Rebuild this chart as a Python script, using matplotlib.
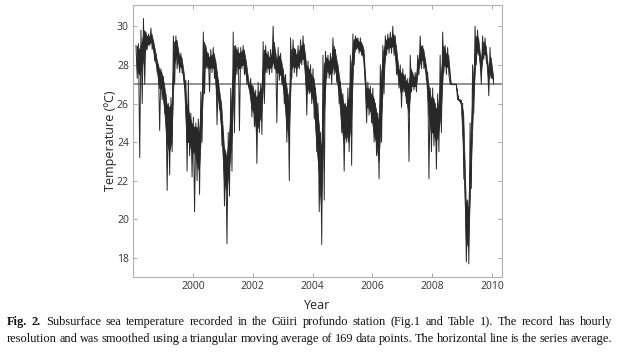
#!/usr/bin/env python3
import matplotlib
matplotlib.use("Agg")
import matplotlib.pyplot as plt
import numpy as np

# monthly values, Feb 1998 .. Jan 2010
start_year = 1998.10

# full monthly excursion (highest / lowest reading, spikes included)
temp_high = [
    29.0, 29.1, 29.8, 30.4, 29.7, 29.6, 29.9, 29.2, 28.6, 28.0, 27.8,              # 1998
    27.4, 26.5, 26.0, 26.3, 29.5, 29.5, 28.7, 28.6, 27.6, 27.2, 27.2, 25.5,        # 1999
    25.3, 25.0, 25.2, 26.6, 29.7, 29.0, 28.6, 28.8, 28.9, 28.2, 27.2, 26.2,        # 2000
    24.5, 23.5, 24.5, 26.8, 29.7, 29.0, 28.9, 28.9, 29.0, 28.3, 27.0, 27.3,        # 2001
    26.9, 26.7, 27.1, 27.0, 29.2, 29.0, 28.7, 28.8, 30.0, 28.6, 28.9, 28.6,        # 2002
    27.8, 27.5, 26.5, 29.4, 29.3, 28.8, 29.0, 29.3, 29.5, 28.5, 28.2, 28.0,        # 2003
    27.8, 26.8, 26.0, 24.5, 28.5, 28.7, 28.5, 28.6, 29.4, 28.8, 28.0, 27.1,        # 2004
    26.5, 26.0, 26.8, 28.5, 29.6, 29.5, 29.4, 29.4, 29.0, 27.1, 27.1, 26.9,        # 2005
    26.8, 26.0, 25.5, 28.0, 29.0, 29.5, 29.6, 29.7, 30.0, 29.5, 28.0, 28.0,        # 2006
    27.8, 27.5, 27.3, 28.5, 27.6, 27.6, 28.5, 29.5, 29.0, 28.2, 27.6, 26.8,        # 2007
    26.8, 26.0, 26.5, 28.5, 29.7, 29.0, 28.9, 27.0, 27.0, 27.0, 26.2, 26.2,        # 2008
    26.0, 22.0, 21.0, 25.0, 28.0, 30.0, 29.8, 28.5, 29.5, 29.4, 28.0, 28.9,        # 2009
    27.5,                                                                          # 2010
]
temp_low = [
    27.3, 23.2, 26.0, 27.0, 28.8, 29.0, 28.8, 28.2, 27.6, 24.6, 26.2,              # 1998
    25.5, 21.5, 22.3, 23.5, 27.0, 27.8, 27.6, 27.6, 26.8, 22.5, 23.3, 22.2,        # 1999
    20.4, 22.0, 21.3, 24.0, 26.5, 27.8, 26.6, 27.6, 27.3, 24.9, 25.7, 23.8,        # 2000
    20.7, 18.75, 21.2, 22.5, 24.5, 27.5, 24.6, 27.8, 27.5, 27.0, 26.7, 25.3,       # 2001
    24.8, 22.9, 24.5, 24.4, 26.0, 27.6, 27.5, 27.6, 27.8, 25.0, 27.2, 27.0,        # 2002
    26.0, 24.0, 22.0, 27.3, 27.6, 27.4, 27.8, 28.0, 28.0, 25.4, 26.5, 26.0,        # 2003
    25.2, 23.5, 20.4, 18.7, 21.0, 27.3, 27.3, 27.0, 27.5, 27.1, 26.0, 24.5,        # 2004
    22.5, 24.0, 23.5, 22.8, 28.0, 28.8, 28.6, 28.5, 28.0, 25.0, 25.4, 25.0,        # 2005
    24.0, 23.3, 22.1, 24.0, 26.5, 28.5, 28.6, 28.6, 28.5, 27.5, 26.8, 25.8,        # 2006
    26.6, 26.0, 23.0, 26.6, 26.7, 26.6, 27.5, 27.8, 27.8, 27.2, 22.1, 23.5,        # 2007
    23.8, 22.6, 23.5, 24.5, 27.6, 27.5, 27.5, 27.0, 27.0, 27.0, 26.2, 26.0,        # 2008
    22.1, 17.8, 17.7, 21.6, 25.5, 28.0, 28.5, 27.0, 28.3, 28.2, 26.4, 27.3,        # 2009
    27.0,                                                                          # 2010
]

# dense core of the daily oscillation (the solid black band)
core_high = [
    29.0, 28.8, 29.2, 29.8, 29.5, 29.5, 29.6, 29.0, 28.3, 27.8, 27.6,              # 1998
    27.0, 26.0, 25.8, 26.0, 29.2, 29.3, 28.5, 28.4, 27.5, 26.0, 25.5, 25.0,        # 1999
    24.8, 24.8, 24.5, 26.3, 29.2, 28.7, 28.4, 28.5, 28.6, 27.8, 26.8, 25.8,        # 2000
    23.8, 23.2, 24.2, 26.3, 29.0, 28.8, 28.6, 28.7, 28.8, 28.0, 27.0, 27.0,        # 2001
    26.6, 26.3, 26.6, 26.8, 28.8, 28.6, 28.4, 28.5, 29.2, 28.3, 28.5, 28.2,        # 2002
    27.4, 27.0, 26.0, 28.8, 28.9, 28.5, 28.7, 29.0, 29.1, 28.0, 27.8, 27.5,        # 2003
    27.3, 26.2, 25.0, 23.5, 28.0, 28.4, 28.2, 28.3, 29.0, 28.4, 27.6, 26.6,        # 2004
    26.0, 25.8, 26.3, 28.0, 29.3, 29.4, 29.2, 29.2, 28.8, 26.8, 26.8, 26.5,        # 2005
    26.3, 25.7, 25.0, 27.5, 28.8, 29.3, 29.4, 29.4, 29.6, 29.0, 27.8, 27.6,        # 2006
    27.5, 27.2, 27.0, 27.8, 27.4, 27.4, 28.3, 29.0, 28.8, 28.0, 27.0, 26.3,        # 2007
    26.3, 25.7, 26.0, 27.5, 29.0, 28.6, 28.5, 27.0, 27.0, 27.0, 26.2, 26.2,        # 2008
    25.5, 21.0, 20.5, 24.5, 27.5, 29.5, 29.4, 28.2, 29.2, 29.0, 27.8, 28.4,        # 2009
    27.4,                                                                          # 2010
]
core_low = [
    27.8, 27.5, 27.8, 28.5, 29.0, 29.1, 29.2, 28.5, 27.8, 26.8, 26.8,              # 1998
    25.8, 24.0, 23.5, 24.0, 28.0, 28.5, 27.9, 27.9, 27.0, 24.0, 24.0, 23.5,        # 1999
    23.5, 23.0, 22.5, 24.8, 27.8, 28.0, 27.8, 27.9, 27.8, 26.5, 26.0, 24.5,        # 2000
    22.0, 21.5, 22.5, 24.0, 27.0, 28.0, 27.8, 28.0, 28.0, 27.3, 26.8, 25.8,        # 2001
    25.5, 24.5, 25.0, 25.5, 27.5, 27.9, 27.8, 27.9, 28.2, 27.6, 27.6, 27.4,        # 2002
    26.5, 25.0, 24.2, 27.8, 28.0, 27.8, 28.0, 28.3, 28.3, 26.5, 26.8, 26.5,        # 2003
    26.0, 24.0, 22.5, 20.5, 25.0, 27.7, 27.6, 27.5, 28.0, 27.5, 26.5, 25.0,        # 2004
    24.0, 24.5, 24.0, 25.0, 28.5, 29.0, 28.8, 28.7, 28.3, 25.8, 25.8, 25.5,        # 2005
    24.5, 24.0, 23.0, 25.0, 27.5, 28.8, 28.9, 28.9, 29.0, 28.0, 27.2, 26.5,        # 2006
    26.9, 26.3, 25.5, 26.9, 26.9, 26.9, 27.8, 28.3, 28.2, 27.5, 25.5, 24.5,        # 2007
    24.5, 24.0, 24.5, 25.5, 28.0, 27.9, 27.9, 27.0, 27.0, 27.0, 26.2, 26.0,        # 2008
    23.5, 19.0, 18.5, 22.5, 26.0, 28.5, 28.8, 27.5, 28.6, 28.5, 27.2, 27.6,        # 2009
    27.2,                                                                          # 2010
]
series_mean = 27.0

x_ticks = [2000, 2002, 2004, 2006, 2008, 2010]
y_ticks = [18, 20, 22, 24, 26, 28, 30]

caption_line1 = ("Fig. 2. Subsurface sea temperature recorded in the Güiri profundo "
                 "station (Fig.1 and Table 1). The record has hourly")
caption_line2 = ("resolution and was smoothed using a triangular moving average of "
                 "169 data points. The horizontal line is the series average.")


def justify(fig, renderer, line, y, bold_words=0, x_left=7 / 620, x_right=612 / 620, size=8.9):
    words = line.split()
    texts, widths = [], []
    for i, w in enumerate(words):
        txt = fig.text(0, y, w, fontsize=size, family="Liberation Serif",
                       fontweight="bold" if i < bold_words else "normal",
                       va="baseline", color="#111111")
        widths.append(txt.get_window_extent(renderer).width / fig.bbox.width)
        texts.append(txt)
    gap = (x_right - x_left - sum(widths)) / (len(words) - 1)
    x = x_left
    for txt, w in zip(texts, widths):
        txt.set_x(x)
        x += w + gap


def main():
    fig = plt.figure(figsize=(6.2, 3.61), dpi=100)
    ax = fig.add_axes([0.2145, 0.2327, 0.595, 0.7535])

    n = len(temp_high)
    t = start_year + np.arange(n) / 12.0

    # high and low of each month half a month apart
    times = np.empty(2 * n)
    vals = np.empty(2 * n)
    times[0::2] = t
    times[1::2] = t + 1 / 24.0
    vals[0::2] = temp_high
    vals[1::2] = temp_low

    ax.axhline(series_mean, color="#8a8a8a", linewidth=1.3, zorder=1)
    ax.fill_between(t + 1 / 48.0, core_low, core_high, color="#262626",
                    linewidth=0.5, edgecolor="#262626", zorder=2)
    ax.plot(times, vals, color="#2a2a2a", linewidth=0.7, zorder=3)

    ax.set_xlim(1998.0, 2010.33)
    ax.set_ylim(17.02, 31.1)
    ax.set_xticks(x_ticks)
    ax.set_yticks(y_ticks)
    ax.tick_params(direction="in", length=3, width=0.6, color="#999999",
                   labelsize=7.5, labelcolor="#333333", top=True, right=True, pad=3)
    for lab in ax.get_xticklabels() + ax.get_yticklabels():
        lab.set_family("Open Sans")
    for s in ax.spines.values():
        s.set_color("#b0b0b0")
        s.set_linewidth(0.8)

    ax.set_ylabel("Temperature (ºC)", fontsize=9, color="#222222", labelpad=0,
                  family="Open Sans")
    ax.set_xlabel("Year", fontsize=9, color="#222222", labelpad=5, family="Open Sans")

    fig.canvas.draw()
    renderer = fig.canvas.get_renderer()
    justify(fig, renderer, caption_line1, 0.099, bold_words=2)
    justify(fig, renderer, caption_line2, 0.052)

    fig.savefig("out.png", dpi=100)


if __name__ == "__main__":
    main()
